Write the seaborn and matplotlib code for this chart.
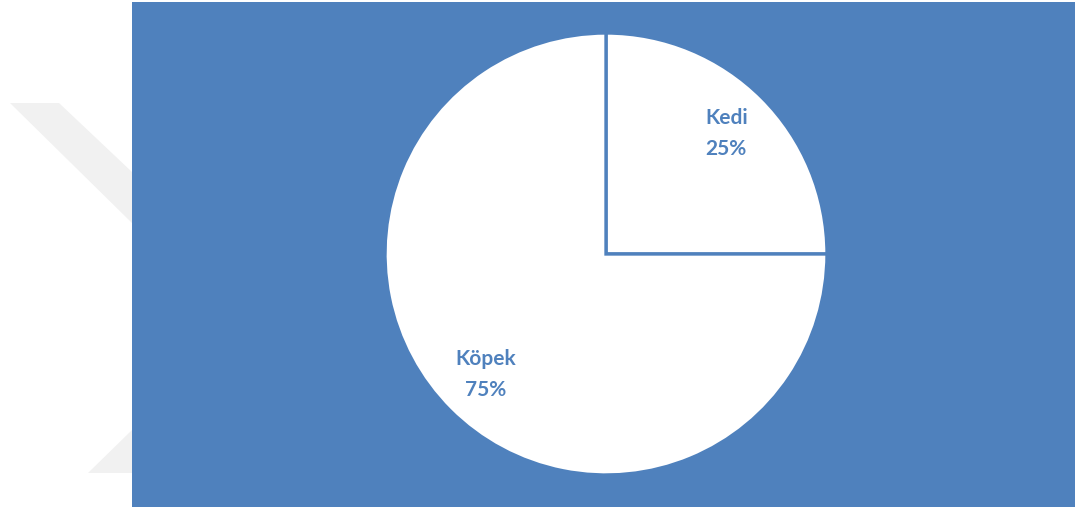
import matplotlib
matplotlib.use("Agg")
import matplotlib.pyplot as plt
import seaborn as sns
from matplotlib.patches import Polygon

sns.set_theme(style="white")
plt.rcParams['font.family'] = ['Lato', 'DejaVu Sans']

categories = ["Kedi", "Köpek"]
values = [25, 75]
pct_labels = ["25%", "75%"]

BLUE = "#4F81BD"
W, H = 1075, 512
fig = plt.figure(figsize=(W / 100, H / 100), dpi=100)
fig.patch.set_facecolor("white")

# faint watermark shapes on the left margin (figure pixel coords)
def px(pts):
    return [(x / W, 1 - y / H) for x, y in pts]

fig.patches.append(Polygon(px([(10, 103), (59, 103), (132, 172), (132, 223)]),
                           closed=True, transform=fig.transFigure,
                           facecolor="#F1F1F1", edgecolor="none", zorder=0))
fig.patches.append(Polygon(px([(88, 473), (132, 430), (132, 473)]),
                           closed=True, transform=fig.transFigure,
                           facecolor="#F1F1F1", edgecolor="none", zorder=0))

ax = fig.add_axes([132 / W, (H - 507) / H, 943 / W, 505 / H])
ax.set_facecolor(BLUE)
for s in ax.spines.values():
    s.set_visible(False)

labels = [f"{c}\n{p}" for c, p in zip(categories, pct_labels)]
wedges, texts = ax.pie(values, labels=labels, colors=["white", "white"],
                       startangle=90, counterclock=False,
                       center=(474, 253), radius=221, frame=True,
                       labeldistance=0.77,
                       wedgeprops=dict(edgecolor=BLUE, linewidth=2.4),
                       textprops=dict(color=BLUE, fontsize=15, fontweight="bold",
                                      ha="center", va="center", linespacing=1.65))
for t in texts:
    t.set_ha("center")
ax.set_xlim(0, 943)
ax.set_ylim(0, 505)
ax.set_aspect("auto")
ax.set_xticks([])
ax.set_yticks([])

fig.savefig("out.png", dpi=100, facecolor="white")
